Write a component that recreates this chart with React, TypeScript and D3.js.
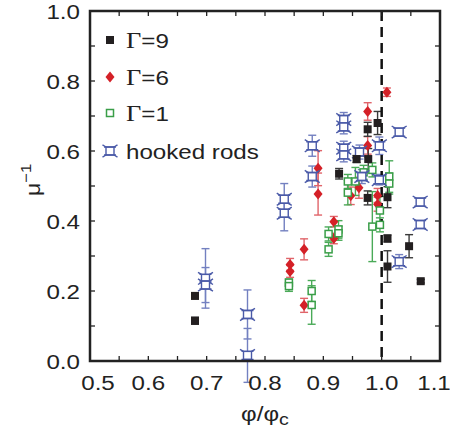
import React from "react";
import * as d3 from "d3";

type P = [number, number, number];

const gamma9: P[] = [
  [0.68, 0.186, 0.008], [0.68, 0.115, 0.01], [0.927, 0.535, 0.015], [0.957, 0.577, 0.01],
  [0.976, 0.662, 0.02], [0.977, 0.577, 0.03], [0.976, 0.466, 0.02], [0.993, 0.68, 0.033],
  [1.01, 0.468, 0.03], [1.01, 0.35, 0.01], [1.01, 0.27, 0.045], [1.047, 0.328, 0.033],
  [1.067, 0.228, 0.005],
];
const gamma6: P[] = [
  [0.843, 0.276, 0.017], [0.843, 0.256, 0.017], [0.867, 0.319, 0.03], [0.867, 0.159, 0.02],
  [0.891, 0.551, 0.05], [0.891, 0.477, 0.06], [0.918, 0.398, 0.015], [0.918, 0.35, 0.015],
  [0.947, 0.472, 0.025], [0.961, 0.495, 0.03], [0.976, 0.713, 0.025], [0.976, 0.616, 0.025],
  [0.993, 0.473, 0.02], [0.993, 0.448, 0.02], [1.009, 0.768, 0.012],
];
const gamma1: P[] = [
  [0.841, 0.224, 0.01], [0.841, 0.214, 0.015], [0.88, 0.2, 0.03], [0.88, 0.16, 0.055],
  [0.909, 0.363, 0.02], [0.909, 0.319, 0.02], [0.926, 0.376, 0.025], [0.926, 0.365, 0.02],
  [0.942, 0.481, 0.035], [0.942, 0.513, 0.02], [0.955, 0.513, 0.04], [0.969, 0.539, 0.02],
  [0.984, 0.546, 0.02], [0.984, 0.384, 0.1], [0.997, 0.43, 0.04], [0.997, 0.389, 0.02],
  [1.013, 0.527, 0.045], [1.013, 0.507, 0.03],
];
const hooked: P[] = [
  [0.698, 0.236, 0.085], [0.698, 0.217, 0.05], [0.77, 0.133, 0.07], [0.77, 0.016, 0.077],
  [0.833, 0.462, 0.045], [0.833, 0.422, 0.05], [0.881, 0.615, 0.03], [0.881, 0.527, 0.03],
  [0.935, 0.69, 0.02], [0.935, 0.669, 0.02], [0.935, 0.608, 0.02], [0.935, 0.589, 0.02],
  [0.962, 0.597, 0.02], [0.966, 0.527, 0.02], [0.996, 0.615, 0.025], [0.996, 0.518, 0.015],
  [1.03, 0.654, 0.01], [1.03, 0.284, 0.02], [1.066, 0.454, 0.01], [1.066, 0.39, 0.01],
];

const xTicks = [0.5, 0.6, 0.7, 0.8, 0.9, 1.0, 1.1];
const yTicks = [0.0, 0.2, 0.4, 0.6, 0.8, 1.0];
const xMinor = d3.range(0, 13).map((i) => 0.5 + i * 0.05);
const yMinor = d3.range(0, 11).map((i) => i * 0.1);
const legendValues = ["9", "6", "1"];
const legendHooked = "hooked rods";

const L = 90, R = 440, T = 11, B = 361;
const FONT = "'Liberation Sans', Arial, Helvetica, sans-serif";
const SX = 1.15;
const FS = 21;

const C9 = "#231f20", C6 = "#d42027", C1 = "#3a9e48", CH = "#4a5aa8";
const E9 = "#3a3a3a", E6 = "#e0646a", E1 = "#4aaa58", EH = "#7380c0";

function Marker({ kind, x, y }: { kind: number; x: number; y: number }) {
  if (kind === 0) return <rect x={x - 4} y={y - 4} width={8} height={8} fill={C9} />;
  if (kind === 1)
    return <path d={`M${x},${y - 5.5}L${x + 4.5},${y}L${x},${y + 5.5}L${x - 4.5},${y}Z`} fill={C6} />;
  if (kind === 2)
    return <rect x={x - 3.5} y={y - 3.5} width={7} height={7} fill="white" stroke={C1} strokeWidth={1.5} />;
  const s = 4, k = 3.5;
  return (
    <g stroke={CH} strokeWidth={1.4} fill="none">
      <rect x={x - s} y={y - s} width={2 * s} height={2 * s} fill="white" />
      <path d={`M${x - s},${y - s}l${-k},${-k * 0.6}M${x + s},${y - s}l${k},${-k * 0.6}M${x - s},${y + s}l${-k},${k * 0.6}M${x + s},${y + s}l${k},${k * 0.6}`} />
      <path d={`M${x - s - 2},${y - s}H${x + s + 2}M${x - s - 2},${y + s}H${x + s + 2}`} />
    </g>
  );
}

function T2({ x, y, anchor, children }: { x: number; y: number; anchor?: string; children: any }) {
  return (
    <text transform={`translate(${x},${y}) scale(${SX},1)`} fontSize={FS} textAnchor={anchor || "start"} fill="#222">
      {children}
    </text>
  );
}

export default function App() {
  const x = d3.scaleLinear().domain([0.5, 1.1]).range([L, R]);
  const y = d3.scaleLinear().domain([0, 1]).range([B, T]);
  const series: { data: P[]; kind: number; ec: string }[] = [
    { data: gamma6, kind: 1, ec: E6 },
    { data: gamma1, kind: 2, ec: E1 },
    { data: hooked, kind: 3, ec: EH },
    { data: gamma9, kind: 0, ec: E9 },
  ];
  const tick = 5;
  const xLabelShift = (v: number) => (v === 0.5 ? 8 : v === 1.1 ? -6 : 0);
  return (
    <svg width={450} height={433} style={{ display: "block", position: "absolute", left: 0, top: 0 }} fontFamily={FONT}>
      <rect width={450} height={433} fill="white" />
      {series.map((s, si) => (
        <g key={"e" + si} stroke={s.ec} strokeWidth={1.4}>
          {s.data.map((d, i) => {
            const cx = x(d[0]);
            const y1 = y(d[1] - d[2]);
            const y2 = y(d[1] + d[2]);
            return (
              <g key={i}>
                <line x1={cx} x2={cx} y1={y1} y2={y2} />
                <line x1={cx - 4} x2={cx + 4} y1={y1} y2={y1} />
                <line x1={cx - 4} x2={cx + 4} y1={y2} y2={y2} />
              </g>
            );
          })}
        </g>
      ))}
      <line x1={x(1.0)} x2={x(1.0)} y1={T} y2={B} stroke="#111" strokeWidth={2.5} strokeDasharray="10,6" />
      {series.map((s, si) => (
        <g key={"m" + si}>
          {s.data.map((d, i) => (
            <Marker key={i} kind={s.kind} x={x(d[0])} y={y(d[1])} />
          ))}
        </g>
      ))}
      <g stroke="#222" strokeWidth={1.3}>
        {xMinor.map((v, i) => (
          <g key={"xt" + i}>
            <line x1={x(v)} x2={x(v)} y1={B} y2={B - tick} />
            <line x1={x(v)} x2={x(v)} y1={T} y2={T + tick} />
          </g>
        ))}
        {yMinor.map((v, i) => (
          <g key={"yt" + i}>
            <line x1={L} x2={L + tick} y1={y(v)} y2={y(v)} />
            <line x1={R} x2={R - tick} y1={y(v)} y2={y(v)} />
          </g>
        ))}
      </g>
      <rect x={L} y={T} width={R - L} height={B - T} fill="none" stroke="#222" strokeWidth={2.5} />
      {xTicks.map((v, i) => (
        <T2 key={"xl" + i} x={x(v) + xLabelShift(v)} y={390} anchor="middle">
          {v.toFixed(1)}
        </T2>
      ))}
      {yTicks.map((v, i) => (
        <T2 key={"yl" + i} x={80} y={y(v) + 7.5} anchor="end">
          {v.toFixed(1)}
        </T2>
      ))}
      <T2 x={265} y={421} anchor="middle">
        φ/φ<tspan fontSize={17} dy={4}>c</tspan>
      </T2>
      <text transform="translate(40,180) rotate(-90) scale(1.1,1)" fontSize={FS} textAnchor="middle" fill="#222">
        μ<tspan fontSize={15} dy={-9}>−1</tspan>
      </text>
      {[0, 1, 2, 3].map((i) => {
        const ly = [40, 77, 113, 151][i];
        return (
          <g key={"lg" + i}>
            <Marker kind={i} x={110} y={ly} />
            {i < 3 ? (
              <T2 x={126} y={ly + 7.5}>
                <tspan fontFamily="'Liberation Serif', 'Times New Roman', serif" fontSize={23}>Γ</tspan>=
                {legendValues[i]}
              </T2>
            ) : (
              <T2 x={126} y={ly + 7.5}>{legendHooked}</T2>
            )}
          </g>
        );
      })}
    </svg>
  );
}
